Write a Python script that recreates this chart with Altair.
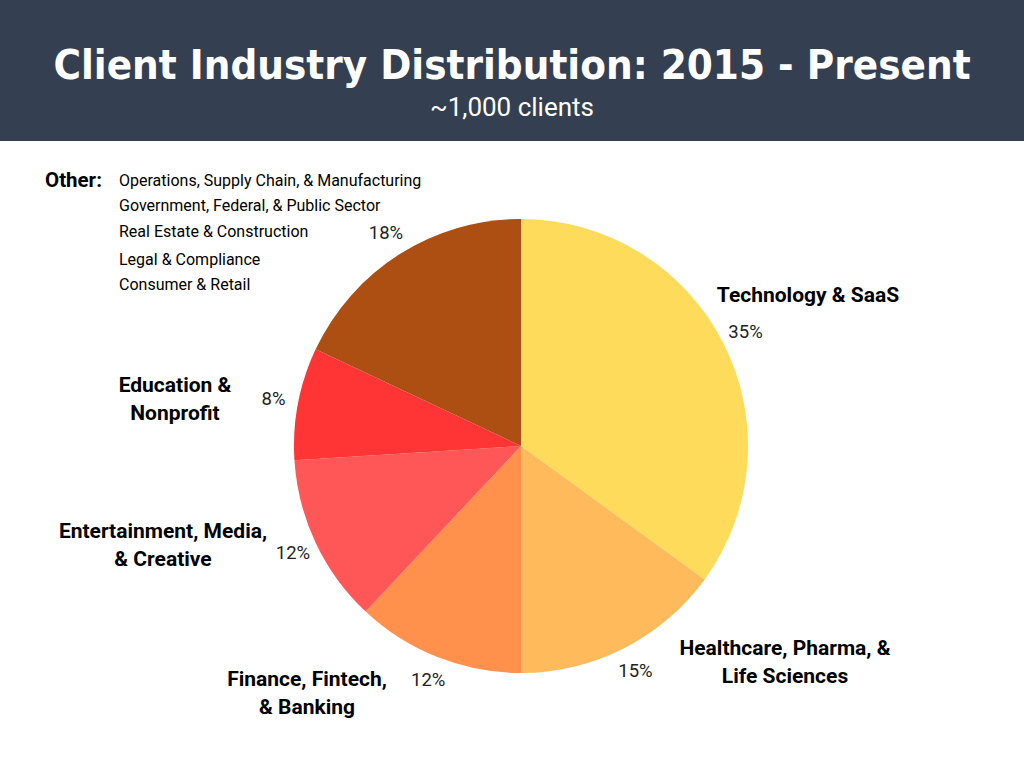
import altair as alt
import pandas as pd

# ---- data ----
categories = [
    "Technology & SaaS",
    "Healthcare, Pharma, & Life Sciences",
    "Finance, Fintech, & Banking",
    "Entertainment, Media, & Creative",
    "Education & Nonprofit",
    "Other",
]
shares = [35, 15, 12, 12, 8, 18]
colors = ["#FFDB5B", "#FFBB5B", "#FF914D", "#FF5757", "#FF3434", "#AD4E12"]

label_lines = [
    ["Technology & SaaS"],
    ["Healthcare, Pharma, &", "Life Sciences"],
    ["Finance, Fintech,", "& Banking"],
    ["Entertainment, Media,", "& Creative"],
    ["Education &", "Nonprofit"],
]
other_items = [
    "Operations, Supply Chain, & Manufacturing",
    "Government, Federal, & Public Sector",
    "Real Estate & Construction",
    "Legal & Compliance",
    "Consumer & Retail",
]

title = "Client Industry Distribution: 2015 - Present"
subtitle = "~1,000 clients"

# ---- layout (pixels) ----
W, H = 1024, 768
CX, CY, R = 521, 446, 227
label_pos = [(808, 296), (785, 649), (307, 680), (163, 532), (175, 386)]
other_x, other_ys = 119, [181, 206, 232, 260, 285]

FONT = "Roboto"

pie_df = pd.DataFrame({
    "idx": list(range(len(categories))),
    "category": categories,
    "share": shares,
    "pct": [f"{s}%" for s in shares],
})

base = alt.Chart(pie_df)

header = alt.Chart(pd.DataFrame({"a": [0]})).mark_rect(color="#343F51").encode(
    x=alt.value(0), x2=alt.value(W), y=alt.value(0), y2=alt.value(141)
)

title_txt = alt.Chart(pd.DataFrame({"t": [title]})).mark_text(
    font="DejaVu Sans Condensed", fontWeight="bold", fontSize=41.7, color="white",
    align="center", baseline="alphabetic",
).encode(x=alt.value(512), y=alt.value(79), text="t:N")

sub_txt = alt.Chart(pd.DataFrame({"t": [subtitle]})).mark_text(
    font=FONT, fontSize=26, color="white", align="center", baseline="middle",
).encode(x=alt.value(512), y=alt.value(108), text="t:N")

arc = base.mark_arc(radius=R).encode(
    theta=alt.Theta("share:Q", stack=True),
    order=alt.Order("idx:Q"),
    color=alt.Color("category:N", scale=alt.Scale(domain=categories, range=colors), legend=None),
    x=alt.value(CX), y=alt.value(CY),
)

pct = base.mark_text(radius=252, font=FONT, fontSize=18.5, color="#222222").encode(
    theta=alt.Theta("share:Q", stack=True),
    order=alt.Order("idx:Q"),
    text="pct:N",
    x=alt.value(CX), y=alt.value(CY),
)

lab_df = pd.DataFrame({
    "lines": label_lines,
    "px": [p[0] for p in label_pos],
    "py": [p[1] for p in label_pos],
})
labels = alt.Chart(lab_df).mark_text(
    font=FONT, fontSize=21, fontWeight="bold", color="black",
    align="center", baseline="middle", lineHeight=28,
).encode(
    x=alt.X("px:Q", scale=None), y=alt.Y("py:Q", scale=None), text="lines"
)

other_head = alt.Chart(pd.DataFrame({"t": ["Other:"]})).mark_text(
    font=FONT, fontSize=20.5, fontWeight="bold", color="black", align="left", baseline="middle",
).encode(x=alt.value(45), y=alt.value(181), text="t:N")

oth_df = pd.DataFrame({"t": other_items, "py": other_ys})
others = alt.Chart(oth_df).mark_text(
    font=FONT, fontSize=16, color="black", align="left", baseline="middle",
).encode(x=alt.value(other_x), y=alt.Y("py:Q", scale=None), text="t:N")

chart = alt.layer(header, title_txt, sub_txt, arc, pct, labels, other_head, others).properties(
    width=W, height=H, padding=0, autosize=alt.AutoSizeParams(type="none"), background="white",
).configure_view(stroke=None)

chart.save("out.html", embed_options={"renderer": "svg", "actions": False})
